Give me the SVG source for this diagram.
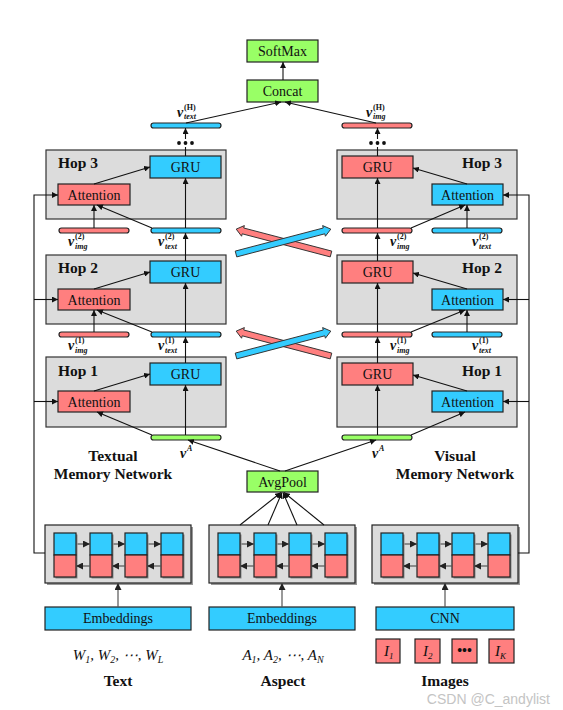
<svg xmlns="http://www.w3.org/2000/svg" xmlns:xlink="http://www.w3.org/1999/xlink" width="563" height="710" viewBox="0 0 563 710">
<style>
.bx{stroke:#222;stroke-width:1.2}
.hop{fill:#dcdcdc;stroke:#333;stroke-width:1.2}
.blue{fill:#33ccff}
.pink{fill:#ff7f7f}
.green{fill:#99ff66}
.ln{stroke:#111;stroke-width:1.1;fill:none}
.gl{stroke:#555;stroke-width:1.2;fill:none}
.t{font-family:"Liberation Serif",serif;font-size:14px;fill:#111;text-anchor:middle}
.hb{font-family:"Liberation Serif",serif;font-weight:bold;font-size:15.5px;fill:#111}
.lb{font-family:"Liberation Serif",serif;font-weight:bold;font-size:15.5px;fill:#111;text-anchor:middle}
.v{font-family:"Liberation Serif",serif;font-style:italic;font-weight:bold;font-size:14px;fill:#111}
.s{font-family:"Liberation Serif",serif;font-weight:bold;font-size:8px;fill:#111}
.si{font-family:"Liberation Serif",serif;font-style:italic;font-weight:bold;font-size:8px;fill:#111}
.it{font-family:"Liberation Serif",serif;font-style:italic;font-size:15px;fill:#111}
.xa{stroke:#333;stroke-width:0.9}
</style>
<defs>
<marker id="ah" viewBox="0 0 8 8" refX="8" refY="4" markerWidth="6" markerHeight="6" markerUnits="userSpaceOnUse" orient="auto"><path d="M0,0 L8,4 L0,8 z" fill="#111"/></marker>
<marker id="ag" viewBox="0 0 8 8" refX="8" refY="4" markerWidth="7" markerHeight="7" markerUnits="userSpaceOnUse" orient="auto"><path d="M0,0 L8,4 L0,8 z" fill="#222"/></marker>
<symbol id="enc" overflow="visible">
<rect x="2" y="2" width="146" height="58" fill="#999"/>
<rect x="0" y="0" width="146" height="58" fill="#dcdcdc" stroke="#222" stroke-width="1.2"/>
<g fill="#888">
<rect x="10.5" y="9.5" width="22" height="44"/>
<rect x="46.5" y="9.5" width="22" height="44"/>
<rect x="81.5" y="9.5" width="22" height="44"/>
<rect x="117.5" y="9.5" width="22" height="44"/>
</g>
<rect x="9" y="8" width="22" height="22" class="blue bx"/>
<rect x="9" y="30" width="22" height="22" class="pink bx"/>
<rect x="45" y="8" width="22" height="22" class="blue bx"/>
<rect x="45" y="30" width="22" height="22" class="pink bx"/>
<rect x="80" y="8" width="22" height="22" class="blue bx"/>
<rect x="80" y="30" width="22" height="22" class="pink bx"/>
<rect x="116" y="8" width="22" height="22" class="blue bx"/>
<rect x="116" y="30" width="22" height="22" class="pink bx"/>
<g class="gl">
<line x1="32.5" y1="19" x2="45" y2="19" marker-end="url(#ag)"/>
<line x1="68.5" y1="19" x2="80" y2="19" marker-end="url(#ag)"/>
<line x1="103.5" y1="19" x2="116" y2="19" marker-end="url(#ag)"/>
<line x1="45" y1="41" x2="31" y2="41" marker-end="url(#ag)"/>
<line x1="80" y1="41" x2="67" y2="41" marker-end="url(#ag)"/>
<line x1="116" y1="41" x2="102" y2="41" marker-end="url(#ag)"/>
</g>
</symbol>
<path id="fat" d="M0,-3 L91,-3 L91,-5.5 L98,0 L91,5.5 L91,3 L0,3 z"/>
</defs>
<rect width="563" height="710" fill="#fff"/>

<!-- Top nodes -->
<g id="softmax"><rect x="247" y="40" width="71" height="22" class="green bx"/><text x="282.5" y="56" class="t">SoftMax</text></g>
<g id="concat"><rect x="247" y="80" width="71" height="22" class="green bx"/><text x="282.5" y="96" class="t">Concat</text></g>
<g id="vtextH"><rect x="151" y="123" width="70" height="5" rx="2.5" class="blue bx"/>
<text x="177" y="117" class="v">v</text><text x="184" y="110" class="s">(H)</text><text x="184" y="119" class="si">text</text></g>
<g id="vimgH"><rect x="342" y="123" width="70" height="5" rx="2.5" class="pink bx"/>
<text x="366" y="117" class="v">v</text><text x="373" y="110" class="s">(H)</text><text x="373" y="119" class="si">img</text></g>
<g id="dots" fill="#111"><circle cx="179" cy="143" r="1.9"/><circle cx="185.5" cy="143" r="1.9"/><circle cx="192" cy="143" r="1.9"/>
<circle cx="371" cy="143" r="1.9"/><circle cx="377.5" cy="143" r="1.9"/><circle cx="384" cy="143" r="1.9"/></g>

<!-- Left hops -->
<g id="l-hop3"><rect x="46" y="150" width="180" height="69" class="hop"/><text x="58" y="168" class="hb">Hop 3</text>
<rect x="150" y="156" width="71" height="22" class="blue bx"/><text x="185.5" y="172" class="t">GRU</text>
<rect x="58" y="184" width="72" height="21" class="pink bx"/><text x="94" y="199.5" class="t">Attention</text></g>
<g id="l-hop2"><rect x="46" y="255" width="180" height="69" class="hop"/><text x="58" y="273" class="hb">Hop 2</text>
<rect x="150" y="261" width="71" height="22" class="blue bx"/><text x="185.5" y="277" class="t">GRU</text>
<rect x="58" y="289" width="72" height="21" class="pink bx"/><text x="94" y="304.5" class="t">Attention</text></g>
<g id="l-hop1"><rect x="46" y="357" width="180" height="70" class="hop"/><text x="58" y="376" class="hb">Hop 1</text>
<rect x="150" y="363" width="71" height="22" class="blue bx"/><text x="185.5" y="379" class="t">GRU</text>
<rect x="58" y="391" width="72" height="21" class="pink bx"/><text x="94" y="406.5" class="t">Attention</text></g>

<!-- Right hops -->
<g id="r-hop3"><rect x="337" y="150" width="180" height="69" class="hop"/><text x="502" y="168" class="hb" text-anchor="end">Hop 3</text>
<rect x="342" y="156" width="71" height="22" class="pink bx"/><text x="377.5" y="172" class="t">GRU</text>
<rect x="432" y="184" width="71" height="21" class="blue bx"/><text x="467.5" y="199.5" class="t">Attention</text></g>
<g id="r-hop2"><rect x="337" y="255" width="180" height="69" class="hop"/><text x="502" y="273" class="hb" text-anchor="end">Hop 2</text>
<rect x="342" y="261" width="71" height="22" class="pink bx"/><text x="377.5" y="277" class="t">GRU</text>
<rect x="432" y="289" width="71" height="21" class="blue bx"/><text x="467.5" y="304.5" class="t">Attention</text></g>
<g id="r-hop1"><rect x="337" y="357" width="180" height="70" class="hop"/><text x="502" y="376" class="hb" text-anchor="end">Hop 1</text>
<rect x="342" y="363" width="71" height="22" class="pink bx"/><text x="377.5" y="379" class="t">GRU</text>
<rect x="432" y="391" width="71" height="21" class="blue bx"/><text x="467.5" y="406.5" class="t">Attention</text></g>

<!-- Memory bars -->
<g id="l-bars2"><rect x="59" y="228" width="70" height="5" rx="2.5" class="pink bx"/><rect x="151" y="228" width="70" height="5" rx="2.5" class="blue bx"/>
<text x="68" y="246" class="v">v</text><text x="75" y="239" class="s">(2)</text><text x="75" y="249" class="si">img</text>
<text x="158" y="246" class="v">v</text><text x="165" y="239" class="s">(2)</text><text x="165" y="249" class="si">text</text></g>
<g id="l-bars1"><rect x="59" y="332" width="70" height="5" rx="2.5" class="pink bx"/><rect x="151" y="332" width="70" height="5" rx="2.5" class="blue bx"/>
<text x="68" y="350" class="v">v</text><text x="75" y="343" class="s">(1)</text><text x="75" y="353" class="si">img</text>
<text x="158" y="350" class="v">v</text><text x="165" y="343" class="s">(1)</text><text x="165" y="353" class="si">text</text></g>
<g id="r-bars2"><rect x="342" y="228" width="70" height="5" rx="2.5" class="pink bx"/><rect x="432" y="228" width="70" height="5" rx="2.5" class="blue bx"/>
<text x="390" y="246" class="v">v</text><text x="397" y="239" class="s">(2)</text><text x="397" y="249" class="si">img</text>
<text x="472" y="246" class="v">v</text><text x="479" y="239" class="s">(2)</text><text x="479" y="249" class="si">text</text></g>
<g id="r-bars1"><rect x="342" y="332" width="70" height="5" rx="2.5" class="pink bx"/><rect x="432" y="332" width="70" height="5" rx="2.5" class="blue bx"/>
<text x="390" y="350" class="v">v</text><text x="397" y="343" class="s">(1)</text><text x="397" y="353" class="si">img</text>
<text x="472" y="350" class="v">v</text><text x="479" y="343" class="s">(1)</text><text x="479" y="353" class="si">text</text></g>
<g id="l-vA"><rect x="151" y="435" width="70" height="5" rx="2.5" class="green bx"/><text x="180" y="458" class="v">v</text><text x="187" y="451" class="si">A</text></g>
<g id="r-vA"><rect x="342" y="435" width="70" height="5" rx="2.5" class="green bx"/><text x="372" y="458" class="v">v</text><text x="379" y="451" class="si">A</text></g>

<g id="labels">
<text x="113" y="461" class="lb">Textual</text><text x="113" y="479" class="lb">Memory Network</text>
<text x="455" y="461" class="lb">Visual</text><text x="455" y="479" class="lb">Memory Network</text>
</g>

<g id="avgpool"><rect x="247" y="471" width="71" height="21" class="green bx"/><text x="282.5" y="486.5" class="t">AvgPool</text></g>

<!-- Encoders -->
<g id="text-encoder" transform="translate(45,525)"><use xlink:href="#enc"/></g>
<g id="aspect-encoder" transform="translate(209,525)"><use xlink:href="#enc"/></g>
<g id="image-encoder" transform="translate(372,525)"><use xlink:href="#enc"/></g>

<g id="emb-text"><rect x="45" y="607" width="146" height="23" class="blue bx"/><text x="118" y="623" class="t">Embeddings</text></g>
<g id="emb-aspect"><rect x="209" y="607" width="146" height="23" class="blue bx"/><text x="282" y="623" class="t">Embeddings</text></g>
<g id="cnn"><rect x="376" y="607" width="138" height="23" class="blue bx"/><text x="445" y="623" class="t">CNN</text></g>

<g id="images">
<rect x="376" y="639" width="24" height="24" class="pink bx"/><text x="384" y="656" class="it" font-size="14">I<tspan font-size="9" dy="3">1</tspan></text>
<rect x="415" y="639" width="25" height="24" class="pink bx"/><text x="423" y="656" class="it" font-size="14">I<tspan font-size="9" dy="3">2</tspan></text>
<rect x="452" y="639" width="25" height="24" class="pink bx"/><text x="464.5" y="655" class="t" font-weight="bold">•••</text>
<rect x="489" y="639" width="25" height="24" class="pink bx"/><text x="495" y="656" class="it" font-size="14">I<tspan font-size="9" dy="3">K</tspan></text>
</g>

<g id="inputs">
<text x="118" y="660" class="it" text-anchor="middle">W<tspan font-size="10" dy="3">1</tspan><tspan dy="-3">, W</tspan><tspan font-size="10" dy="3">2</tspan><tspan dy="-3">, ⋯, W</tspan><tspan font-size="10" dy="3">L</tspan></text>
<text x="283" y="660" class="it" text-anchor="middle">A<tspan font-size="10" dy="3">1</tspan><tspan dy="-3">, A</tspan><tspan font-size="10" dy="3">2</tspan><tspan dy="-3">, ⋯, A</tspan><tspan font-size="10" dy="3">N</tspan></text>
<text x="118" y="686" class="lb">Text</text>
<text x="283" y="686" class="lb">Aspect</text>
<text x="445" y="686" class="lb">Images</text>
</g>

<!-- Connectors -->
<g id="connectors">
<g class="ln">
<line x1="283" y1="80" x2="283" y2="62" marker-end="url(#ah)"/>
<line x1="186" y1="123" x2="281" y2="102" marker-end="url(#ah)"/>
<line x1="376" y1="123" x2="285" y2="102" marker-end="url(#ah)"/>
<line x1="185.5" y1="139" x2="185.5" y2="128" marker-end="url(#ah)"/>
<line x1="377.5" y1="139" x2="377.5" y2="128" marker-end="url(#ah)"/>
<line x1="185.5" y1="156" x2="185.5" y2="147"/>
<line x1="377.5" y1="156" x2="377.5" y2="147"/>
<line x1="94" y1="228" x2="94" y2="205" marker-end="url(#ah)"/>
<line x1="152" y1="228" x2="97" y2="205" marker-end="url(#ah)"/>
<line x1="94" y1="184" x2="150" y2="167" marker-end="url(#ah)"/>
<line x1="185.5" y1="228" x2="185.5" y2="178" marker-end="url(#ah)"/>
<line x1="185.5" y1="261" x2="185.5" y2="233" marker-end="url(#ah)"/>
<line x1="94" y1="332" x2="94" y2="310" marker-end="url(#ah)"/>
<line x1="152" y1="332" x2="97" y2="310" marker-end="url(#ah)"/>
<line x1="94" y1="289" x2="150" y2="272" marker-end="url(#ah)"/>
<line x1="185.5" y1="332" x2="185.5" y2="283" marker-end="url(#ah)"/>
<line x1="185.5" y1="363" x2="185.5" y2="337" marker-end="url(#ah)"/>
<line x1="152" y1="435" x2="97" y2="412" marker-end="url(#ah)"/>
<line x1="94" y1="391" x2="150" y2="374" marker-end="url(#ah)"/>
<line x1="185.5" y1="435" x2="185.5" y2="385" marker-end="url(#ah)"/>
<line x1="467" y1="228" x2="467" y2="205" marker-end="url(#ah)"/>
<line x1="411" y1="228" x2="465" y2="205" marker-end="url(#ah)"/>
<line x1="467" y1="184" x2="413" y2="168" marker-end="url(#ah)"/>
<line x1="377.5" y1="228" x2="377.5" y2="178" marker-end="url(#ah)"/>
<line x1="377.5" y1="261" x2="377.5" y2="233" marker-end="url(#ah)"/>
<line x1="467" y1="332" x2="467" y2="310" marker-end="url(#ah)"/>
<line x1="411" y1="332" x2="465" y2="310" marker-end="url(#ah)"/>
<line x1="467" y1="289" x2="413" y2="273" marker-end="url(#ah)"/>
<line x1="377.5" y1="332" x2="377.5" y2="283" marker-end="url(#ah)"/>
<line x1="377.5" y1="363" x2="377.5" y2="337" marker-end="url(#ah)"/>
<line x1="411" y1="435" x2="465" y2="412" marker-end="url(#ah)"/>
<line x1="467" y1="391" x2="413" y2="375" marker-end="url(#ah)"/>
<line x1="377.5" y1="435" x2="377.5" y2="385" marker-end="url(#ah)"/>
<line x1="280" y1="471" x2="188" y2="440" marker-end="url(#ah)"/>
<line x1="285" y1="471" x2="376" y2="440" marker-end="url(#ah)"/>
<line x1="240" y1="525" x2="281" y2="492.5" marker-end="url(#ah)"/>
<line x1="268" y1="525" x2="282" y2="492.5" marker-end="url(#ah)"/>
<line x1="297" y1="525" x2="283" y2="492.5" marker-end="url(#ah)"/>
<line x1="324" y1="525" x2="284" y2="492.5" marker-end="url(#ah)"/>
<path d="M45,553 H34 V195 H58" marker-end="url(#ah)"/>
<line x1="34" y1="299.5" x2="58" y2="299.5" marker-end="url(#ah)"/>
<line x1="34" y1="401.5" x2="58" y2="401.5" marker-end="url(#ah)"/>
<path d="M518,553 H529 V195 H503" marker-end="url(#ah)"/>
<line x1="529" y1="299.5" x2="503" y2="299.5" marker-end="url(#ah)"/>
<line x1="529" y1="401.5" x2="503" y2="401.5" marker-end="url(#ah)"/>
</g>
<g class="gl">
<line x1="118" y1="607" x2="118" y2="583" marker-end="url(#ag)"/>
<line x1="282" y1="607" x2="282" y2="583" marker-end="url(#ag)"/>
<line x1="445" y1="607" x2="445" y2="583" marker-end="url(#ag)"/>
</g>
<use xlink:href="#fat" transform="translate(331,254) rotate(194.7)" class="pink xa"/>
<use xlink:href="#fat" transform="translate(236,254) rotate(-14.7)" class="blue xa"/>
<use xlink:href="#fat" transform="translate(331,356) rotate(194.7)" class="pink xa"/>
<use xlink:href="#fat" transform="translate(236,356) rotate(-14.7)" class="blue xa"/>
</g>
<text x="550" y="704" font-family="Liberation Sans,sans-serif" font-size="14" fill="#c4c4c4" text-anchor="end">CSDN @C_andylist</text>
</svg>
